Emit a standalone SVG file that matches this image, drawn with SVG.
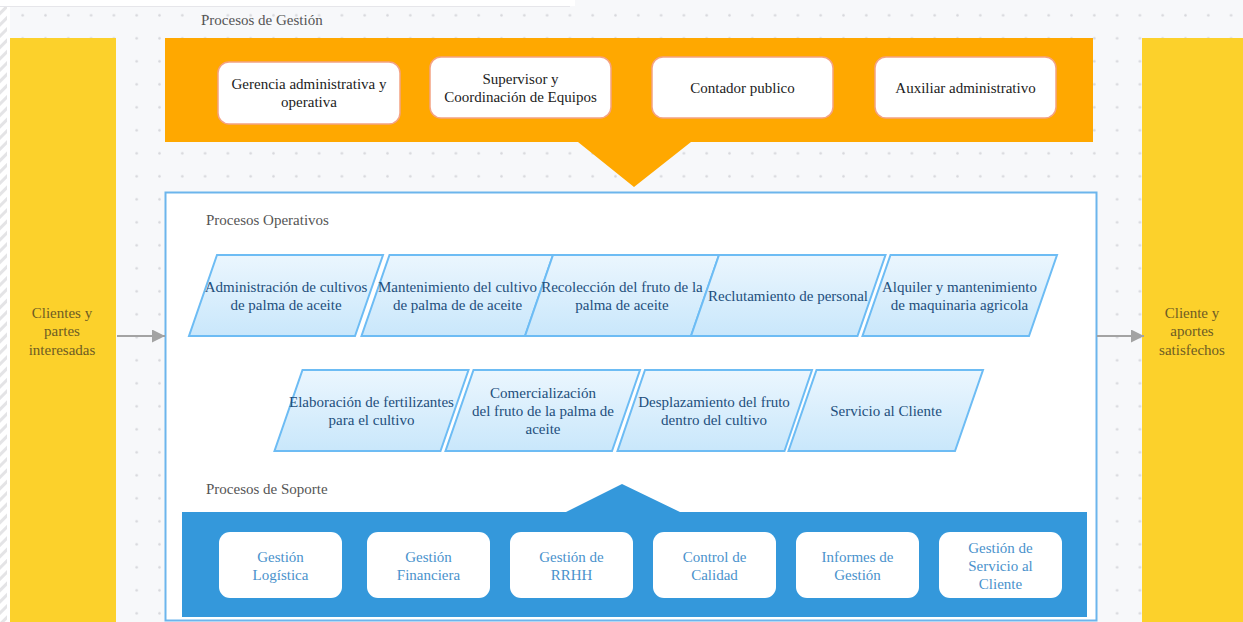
<svg xmlns="http://www.w3.org/2000/svg" width="1243" height="622" viewBox="0 0 1243 622" font-family="'Liberation Serif', 'DejaVu Serif', serif">
<style>
  text { font-family: 'Liberation Serif', 'DejaVu Serif', serif; font-size: 15px; }
  .label { fill: #555555; }
  .mgmt rect { fill: #ffffff; stroke: #f4a283; stroke-width: 1.5; }
  .mgmt text { fill: #222222; text-anchor: middle; }
  .op polygon { fill: url(#opGrad); stroke: #6dbcf4; stroke-width: 2; }
  .op text { fill: #234f7c; text-anchor: middle; }
  .sup rect { fill: #ffffff; }
  .sup text { fill: #4a92cc; text-anchor: middle; }
  .side rect { fill: #fcd12b; }
  .side text { fill: #6e5c24; text-anchor: middle; }
  .conn line { stroke: #a3a3a3; stroke-width: 2; }
</style>
<defs>
  <pattern id="dots" patternUnits="userSpaceOnUse" x="11.3" y="3.8" width="22.8" height="23">
    <circle cx="11.4" cy="11.5" r="1.3" fill="#d6d7db"/>
  </pattern>
  <pattern id="hatch" patternUnits="userSpaceOnUse" width="8" height="8" patternTransform="rotate(45)">
    <rect width="8" height="8" fill="#ffffff"/>
    <rect width="3" height="8" fill="#e4e4e6"/>
  </pattern>
  <linearGradient id="opGrad" x1="0" y1="0" x2="0" y2="1">
    <stop offset="0" stop-color="#ebf6fe"/>
    <stop offset="1" stop-color="#c9e7fb"/>
  </linearGradient>
  <marker id="arrow" viewBox="0 0 13 13" refX="13" refY="6.5" markerWidth="13" markerHeight="13" markerUnits="userSpaceOnUse" orient="auto">
    <path d="M0,0 L13,6.5 L0,13 z" fill="#a3a3a3"/>
  </marker>
</defs>

<!-- background -->
<rect x="0" y="0" width="1243" height="622" fill="#f7f8fa"/>
<rect x="0" y="0" width="1243" height="622" fill="url(#dots)"/>
<rect x="0" y="0" width="7" height="622" fill="url(#hatch)"/>
<rect x="7" y="0" width="3" height="622" fill="#ffffff"/>
<rect x="0" y="0" width="575" height="6" fill="#ffffff"/>
<line x1="0" y1="6.5" x2="570" y2="6.5" stroke="#e6e6ea" stroke-width="1"/>

<!-- side columns -->
<g id="clientes-entrada" class="side">
  <rect x="10" y="38" width="106" height="584"/>
  <text x="62" y="317.5">Clientes y</text>
  <text x="62" y="336">partes</text>
  <text x="62" y="354.5">interesadas</text>
</g>
<g id="clientes-salida" class="side">
  <rect x="1142" y="38" width="101" height="584"/>
  <text x="1192" y="317.5">Cliente y</text>
  <text x="1192" y="336">aportes</text>
  <text x="1192" y="354.5">satisfechos</text>
</g>

<!-- Procesos de Gestión -->
<g id="procesos-gestion">
  <text class="label" x="201" y="25">Procesos de Gestión</text>
  <polygon points="165,38 1093,38 1093,142 691,142 634,187 578,142 165,142" fill="#ffa800"/>
</g>
<g id="gerencia" class="mgmt">
  <rect x="218" y="62" width="182" height="62" rx="11"/>
  <text x="309" y="88.5">Gerencia administrativa y</text>
  <text x="309" y="107">operativa</text>
</g>
<g id="supervisor" class="mgmt">
  <rect x="430" y="57" width="181" height="61" rx="11"/>
  <text x="520.5" y="83.5">Supervisor y</text>
  <text x="520.5" y="102">Coordinación de Equipos</text>
</g>
<g id="contador" class="mgmt">
  <rect x="652" y="57" width="181" height="61" rx="11"/>
  <text x="742.5" y="92.5">Contador publico</text>
</g>
<g id="auxiliar" class="mgmt">
  <rect x="875" y="57" width="181" height="61" rx="11"/>
  <text x="965.5" y="92.5">Auxiliar administrativo</text>
</g>

<!-- Procesos Operativos frame -->
<g id="procesos-operativos">
  <rect x="165.5" y="192.5" width="931" height="428" fill="#ffffff" stroke="#6cb5ec" stroke-width="2"/>
  <text class="label" x="206" y="224.5">Procesos Operativos</text>
</g>

<!-- Row 1 -->
<g id="op-administracion" class="op">
  <polygon points="217,255 383,255 355,336 189,336"/>
  <text x="286" y="292">Administración de cultivos</text>
  <text x="286" y="310">de palma de aceite</text>
</g>
<g id="op-mantenimiento" class="op">
  <polygon points="389.5,255 553,255 525,336 361.5,336"/>
  <text x="457.5" y="292">Mantenimiento del cultivo</text>
  <text x="457.5" y="310">de palma de de aceite</text>
</g>
<g id="op-recoleccion" class="op">
  <polygon points="553,255 719,255 691,336 525,336"/>
  <text x="622" y="292">Recolección del fruto de la</text>
  <text x="622" y="310">palma de aceite</text>
</g>
<g id="op-reclutamiento" class="op">
  <polygon points="719,255 885.5,255 857.5,336 691,336"/>
  <text x="788" y="301">Reclutamiento de personal</text>
</g>
<g id="op-alquiler" class="op">
  <polygon points="890.5,255 1057,255 1029,336 862.5,336"/>
  <text x="959.5" y="292">Alquiler y mantenimiento</text>
  <text x="959.5" y="310">de maquinaria agricola</text>
</g>

<!-- Row 2 -->
<g id="op-elaboracion" class="op">
  <polygon points="302.5,370 468.5,370 440.5,451 274.5,451"/>
  <text x="371.5" y="406.5">Elaboración de fertilizantes</text>
  <text x="371.5" y="425">para el cultivo</text>
</g>
<g id="op-comercializacion" class="op">
  <polygon points="473.5,370 640,370 612,451 445.5,451"/>
  <text x="543" y="397.5">Comercialización</text>
  <text x="543" y="416">del fruto de la palma de</text>
  <text x="543" y="434">aceite</text>
</g>
<g id="op-desplazamiento" class="op">
  <polygon points="645,370 812,370 784.5,451 617.5,451"/>
  <text x="714" y="406.5">Desplazamiento del fruto</text>
  <text x="714" y="425">dentro del cultivo</text>
</g>
<g id="op-servicio" class="op">
  <polygon points="816.5,370 983,370 955,451 788.5,451"/>
  <text x="886" y="415.5">Servicio al Cliente</text>
</g>

<!-- Procesos de Soporte -->
<g id="procesos-soporte">
  <text class="label" x="206" y="493.5">Procesos de Soporte</text>
  <polygon points="182,512 566,512 622,484 680,512 1087,512 1087,617 182,617" fill="#3498db"/>
</g>
<g id="sup-logistica" class="sup">
  <rect x="219" y="532" width="123" height="66" rx="11"/>
  <text x="280.5" y="561.5">Gestión</text>
  <text x="280.5" y="579.5">Logística</text>
</g>
<g id="sup-financiera" class="sup">
  <rect x="367" y="532" width="123" height="66" rx="11"/>
  <text x="428.5" y="561.5">Gestión</text>
  <text x="428.5" y="579.5">Financiera</text>
</g>
<g id="sup-rrhh" class="sup">
  <rect x="510" y="532" width="123" height="66" rx="11"/>
  <text x="571.5" y="561.5">Gestión de</text>
  <text x="571.5" y="579.5">RRHH</text>
</g>
<g id="sup-calidad" class="sup">
  <rect x="653" y="532" width="123" height="66" rx="11"/>
  <text x="714.5" y="561.5">Control de</text>
  <text x="714.5" y="579.5">Calidad</text>
</g>
<g id="sup-informes" class="sup">
  <rect x="796" y="532" width="123" height="66" rx="11"/>
  <text x="857.5" y="561.5">Informes de</text>
  <text x="857.5" y="579.5">Gestión</text>
</g>
<g id="sup-servicio" class="sup">
  <rect x="939" y="532" width="123" height="66" rx="11"/>
  <text x="1000.5" y="552.5">Gestión de</text>
  <text x="1000.5" y="570.5">Servicio al</text>
  <text x="1000.5" y="588.5">Cliente</text>
</g>

<!-- connectors -->
<g id="connectors" class="conn">
  <line x1="117" y1="336" x2="165" y2="336" marker-end="url(#arrow)"/>
  <line x1="1097" y1="336" x2="1144" y2="336" marker-end="url(#arrow)"/>
</g>
</svg>
